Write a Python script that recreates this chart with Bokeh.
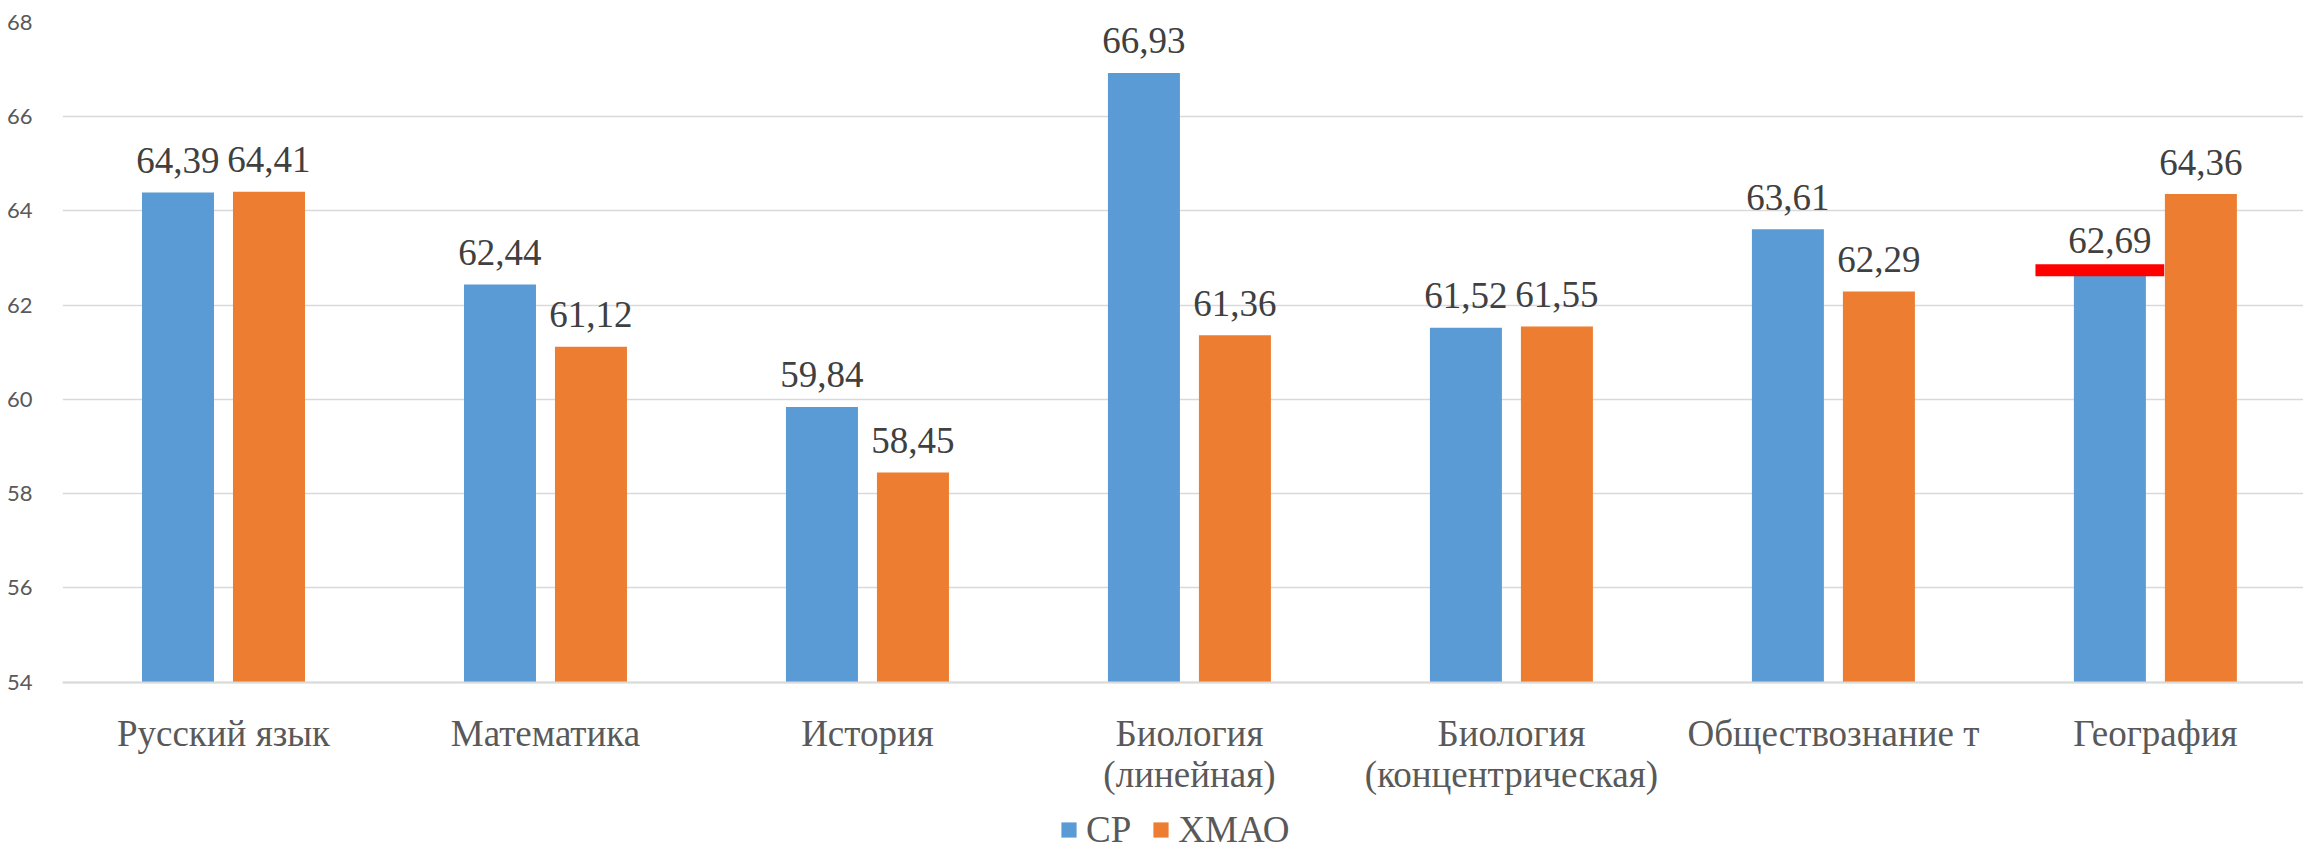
from bokeh.plotting import figure
from bokeh.models import ColumnDataSource, Range1d, FixedTicker, Legend, LegendItem
from bokeh.core.properties import value
from bokeh.embed import file_html
from bokeh.resources import INLINE

categories = ["Русский язык", "Математика", "История", "Биология\n(линейная)",
              "Биология\n(концентрическая)", "Обществознание т", "География"]
cp_values = [64.39, 62.44, 59.84, 66.93, 61.52, 63.61, 62.69]
hmao_values = [64.41, 61.12, 58.45, 61.36, 61.55, 62.29, 64.36]
series_names = ["СР", "ХМАО"]
y_ticks = [54, 56, 58, 60, 62, 64, 66, 68]
highlight_category = "География"

BLUE = "#5B9BD5"
ORANGE = "#ED7D31"
GRID = "#D9D9D9"
TXT = "#595959"
LBL = "#404040"
SERIF = "Liberation Serif"

Y_MIN, Y_MAX = 54, 68
idx = list(range(len(categories)))
offset = 0.1413
bar_w = 0.2236

def fmt(v):
    return f"{v:.2f}".replace(".", ",")

src_cp = ColumnDataSource(dict(x=[i - offset for i in idx], top=cp_values,
                               label=[fmt(v) for v in cp_values]))
src_hm = ColumnDataSource(dict(x=[i + offset for i in idx], top=hmao_values,
                               label=[fmt(v) for v in hmao_values]))

# frame extends to the bottom of the page; the category axis is pinned at Y_MIN
p = figure(width=2303, height=852, output_backend="svg", toolbar_location=None,
           x_range=Range1d(-0.5, 6.46), y_range=Range1d(Y_MIN - 3.616, Y_MAX),
           min_border_left=62, min_border_right=0, min_border_top=22,
           min_border_bottom=0)
p.outline_line_color = None
p.background_fill_color = "white"
p.border_fill_color = "white"

r_cp = p.vbar(x="x", top="top", bottom=Y_MIN, width=bar_w, source=src_cp,
              fill_color=BLUE, line_color=None)
r_hm = p.vbar(x="x", top="top", bottom=Y_MIN, width=bar_w, source=src_hm,
              fill_color=ORANGE, line_color=None)

for src in (src_cp, src_hm):
    p.text(x="x", y="top", text="label", source=src, text_align="center",
           text_baseline="alphabetic", y_offset=-32,
           text_font=value(SERIF), text_font_size="37px", text_color=LBL)

# red highlight over the top of the CP bar for Geography
gi = categories.index(highlight_category)
p.rect(x=[gi - 0.1725], y=[cp_values[gi] + 0.05], width=0.40, height=12,
       height_units="screen", fill_color="#FF0000", line_color=None)

# axes
p.xaxis.fixed_location = Y_MIN
p.xaxis.ticker = FixedTicker(ticks=idx)
p.xaxis.major_label_overrides = {i: c for i, c in zip(idx, categories)}
p.xaxis.major_label_text_font = SERIF
p.xaxis.major_label_text_font_size = "37px"
p.xaxis.major_label_text_color = TXT
p.xaxis.major_label_text_line_height = 1.0
p.xaxis.major_label_standoff = 25
p.xaxis.major_tick_line_color = None
p.xaxis.minor_tick_line_color = None
p.xaxis.axis_line_color = GRID
p.xaxis.axis_line_width = 2

p.yaxis.ticker = FixedTicker(ticks=y_ticks)
p.yaxis.major_label_text_font = "Lato"
p.yaxis.major_label_text_font_size = "22px"
p.yaxis.major_label_text_color = TXT
p.yaxis.major_label_standoff = 24
p.yaxis.major_tick_line_color = None
p.yaxis.minor_tick_line_color = None
p.yaxis.axis_line_color = None

p.xgrid.grid_line_color = None
p.ygrid.grid_line_color = GRID
p.ygrid.grid_line_width = 1.5

legend = Legend(items=[LegendItem(label=series_names[0], renderers=[r_cp]),
                       LegendItem(label=series_names[1], renderers=[r_hm])],
                orientation="horizontal", location=(997, 1),
                label_text_font=SERIF, label_text_font_size="37px",
                label_text_color=TXT, glyph_width=19, glyph_height=19,
                label_standoff=8, spacing=20, padding=0, margin=0,
                border_line_color=None, background_fill_alpha=0)
p.add_layout(legend, "center")

open("out.html", "w").write(file_html(p, INLINE))
